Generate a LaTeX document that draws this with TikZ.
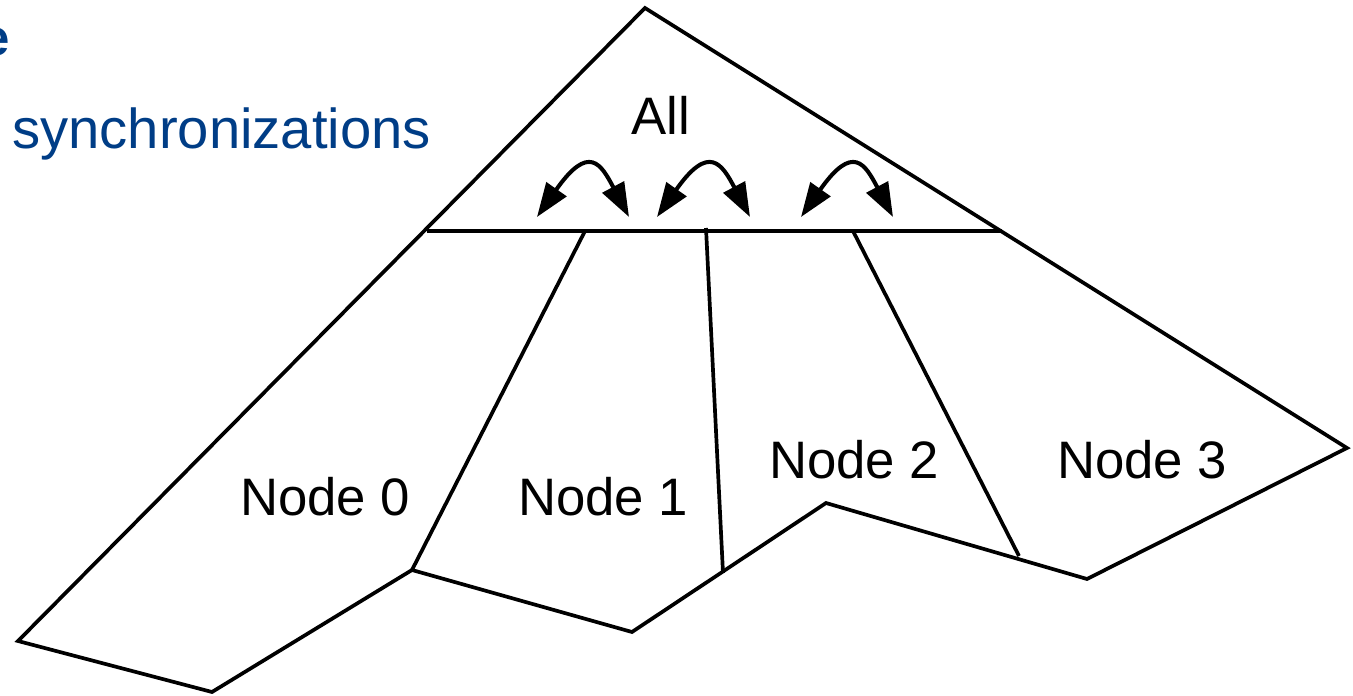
\documentclass[tikz,border=0pt]{standalone}
\usepackage{fontspec}
\setmainfont{Liberation Sans}
\usetikzlibrary{arrows.meta}
\definecolor{titleblue}{RGB}{0,61,134}

\begin{document}
\begin{tikzpicture}[
  outline/.style={draw, line width=1.05pt, line join=miter},
  lbl/.style={inner sep=0pt, font=\fontsize{15pt}{18pt}\selectfont},
  blue text/.style={anchor=base west, inner sep=0pt, text=titleblue},
  sync/.style={{Triangle[length=3.4mm, width=2.4mm]}-{Triangle[length=3.4mm, width=2.4mm]},
    line width=1.15pt}
]
\useasboundingbox (0,0) rectangle (13.53,6.95);

% slide text, cut at the left edge
\node[blue text, font=\bfseries\fontsize{14.5pt}{17pt}\selectfont] (title) at (-0.19,6.40) {e};
\node[blue text, font=\fontsize{16pt}{19pt}\selectfont] (syncs) at (0.115,5.467) {synchronizations};

% outline and partitions
\draw[outline] (6.45,6.87) -- (0.18,0.54) -- (2.12,0.03) -- (4.12,1.25) -- (6.32,0.63)
  -- (8.26,1.92) -- (10.87,1.16) -- (13.47,2.47) -- cycle;
\draw[outline] (4.27,4.64) -- (10.02,4.64);
\draw[outline] (5.85,4.64) -- (4.12,1.25);
\draw[outline] (7.06,4.67) -- (7.23,1.22);
\draw[outline] (8.53,4.64) -- (10.19,1.39);

% labels
\node[lbl] (all) at (6.61,5.80) {All};
\node[lbl] (node0) at (3.25,1.98) {Node 0};
\node[lbl] (node1) at (6.03,1.98) {Node 1};
\node[lbl] (node2) at (8.54,2.35) {Node 2};
\node[lbl] (node3) at (11.42,2.35) {Node 3};

% exchange arrows
\foreach \n/\xl/\xr in {1/5.37/6.29, 2/6.57/7.50, 3/8.01/8.93} {
  \coordinate (s\n l) at (\xl,4.78);
  \coordinate (s\n r) at (\xr,4.78);
  \draw[sync] (s\n l) .. controls +(0.52,0.74) and +(-0.28,0.53) .. (s\n r);
}
\end{tikzpicture}
\end{document}
